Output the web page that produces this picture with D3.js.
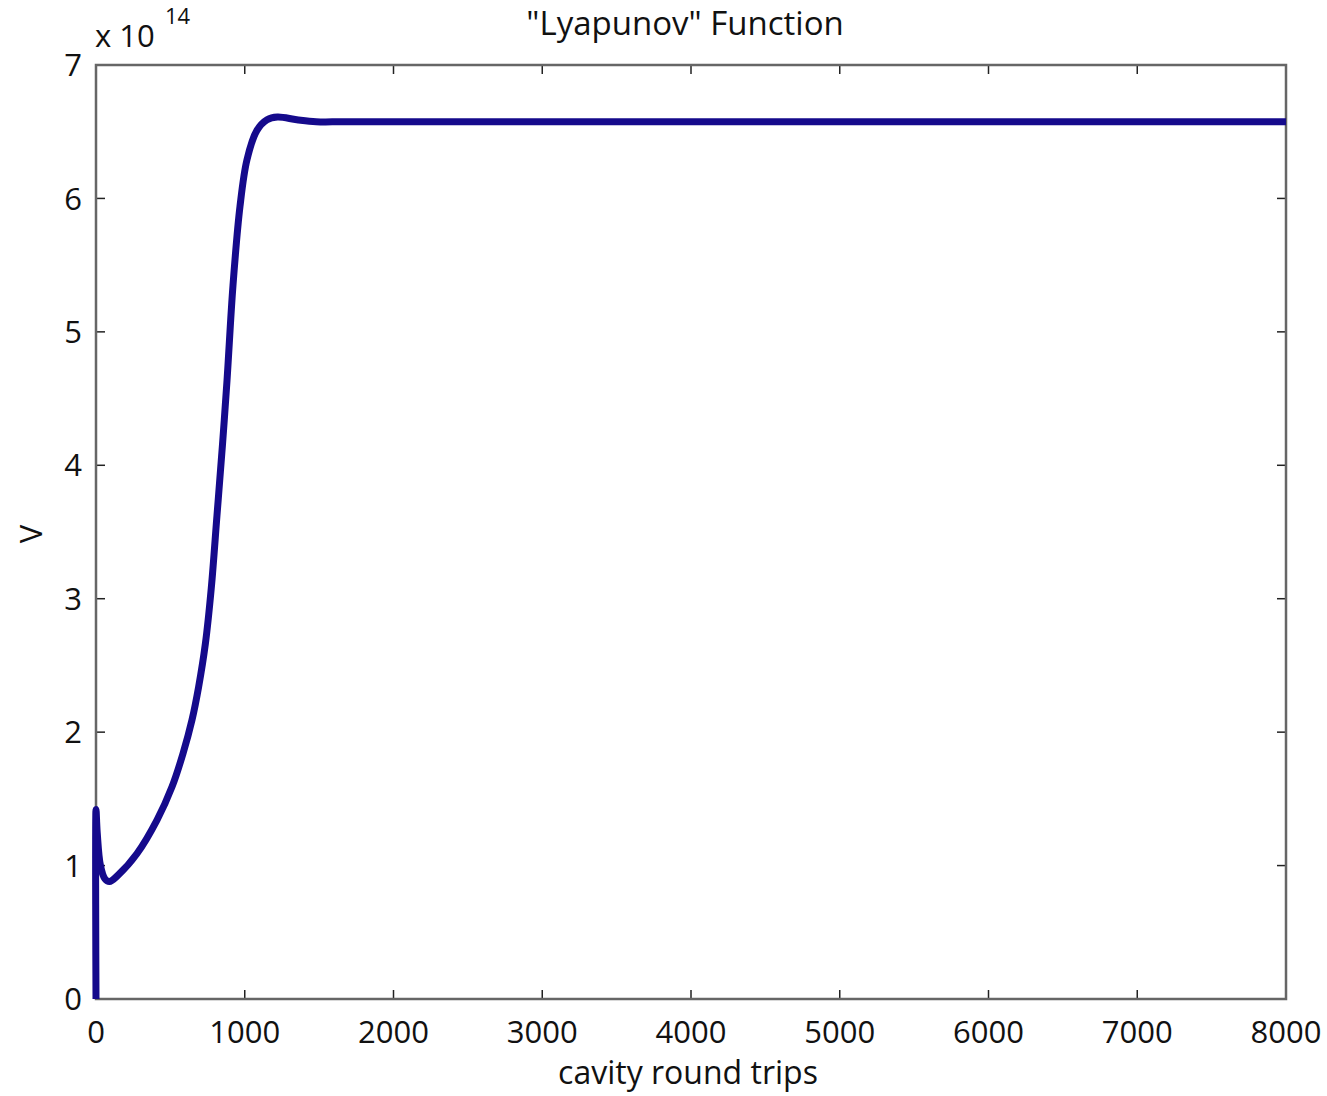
<!DOCTYPE html>
<html><head><meta charset="utf-8">
<script src="https://cdn.jsdelivr.net/npm/d3@7"></script>
<style>body{margin:0;background:#fff}text{font-family:"Open Sans","Noto Sans",sans-serif;fill:#111}</style>
</head><body><svg id="c" width="1327" height="1096"></svg>
<script>
const xTicks=[0,1000,2000,3000,4000,5000,6000,7000,8000];
const yTicks=[0,1,2,3,4,5,6,7];
const roundTrips=[0,0,8,30,60,90,150,276,410,511,585,645,690,735,775,813,850,881,921,968,1015,1082,1150,1220,1350,1480,1700,8000];
const V=[0,1.42,1.25,1.0,0.9,0.88,0.93,1.09,1.34,1.59,1.84,2.09,2.34,2.66,3.08,3.62,4.15,4.64,5.35,5.94,6.29,6.51,6.59,6.61,6.59,6.575,6.575,6.575];
const title='"Lyapunov" Function', xLabel='cavity round trips', yLabel='V';

const L=96,R=1286,T=65,B=999;
const svg=d3.select('#c');
const x=d3.scaleLinear().domain([0,8000]).range([L,R]);
const y=d3.scaleLinear().domain([0,7]).range([B,T]);
const tl=9, fs=31;
const g=svg.append('g');
xTicks.forEach(v=>{
  g.append('line').attr('x1',x(v)).attr('x2',x(v)).attr('y1',B).attr('y2',B-tl).attr('stroke','#222').attr('stroke-width',1.5);
  g.append('line').attr('x1',x(v)).attr('x2',x(v)).attr('y1',T).attr('y2',T+tl).attr('stroke','#222').attr('stroke-width',1.5);
  g.append('text').attr('x',x(v)).attr('y',B+44).attr('text-anchor','middle').attr('font-size',fs).text(v);
});
yTicks.forEach(v=>{
  g.append('line').attr('x1',L).attr('x2',L+tl).attr('y1',y(v)).attr('y2',y(v)).attr('stroke','#222').attr('stroke-width',1.5);
  g.append('line').attr('x1',R).attr('x2',R-tl).attr('y1',y(v)).attr('y2',y(v)).attr('stroke','#222').attr('stroke-width',1.5);
  g.append('text').attr('x',L-14).attr('y',y(v)).attr('dy','0.36em').attr('text-anchor','end').attr('font-size',fs).text(v);
});
g.append('rect').attr('x',L).attr('y',T).attr('width',R-L).attr('height',B-T).attr('fill','none').attr('stroke','#666').attr('stroke-width',2.5);

const pts=roundTrips.map((d,i)=>[d,V[i]]);
const line=d3.line().x(d=>x(d[0])).y(d=>y(d[1])).curve(d3.curveCatmullRom.alpha(0.5));
g.append('path').attr('d',line(pts)).attr('fill','none').attr('stroke','#150a8c').attr('stroke-width',7).attr('stroke-linejoin','round');

svg.append('text').attr('x',685).attr('y',35).attr('text-anchor','middle').attr('font-size',33).text(title);
svg.append('text').attr('x',688).attr('y',1084).attr('text-anchor','middle').attr('font-size',32).text(xLabel);
svg.append('text').attr('transform','translate(42,534) rotate(-90)').attr('text-anchor','middle').attr('font-size',fs).text(yLabel);
svg.append('text').attr('x',95).attr('y',47).attr('font-size',fs).text('x 10');
svg.append('text').attr('x',165).attr('y',24).attr('font-size',22).text('14');
</script></body></html>
